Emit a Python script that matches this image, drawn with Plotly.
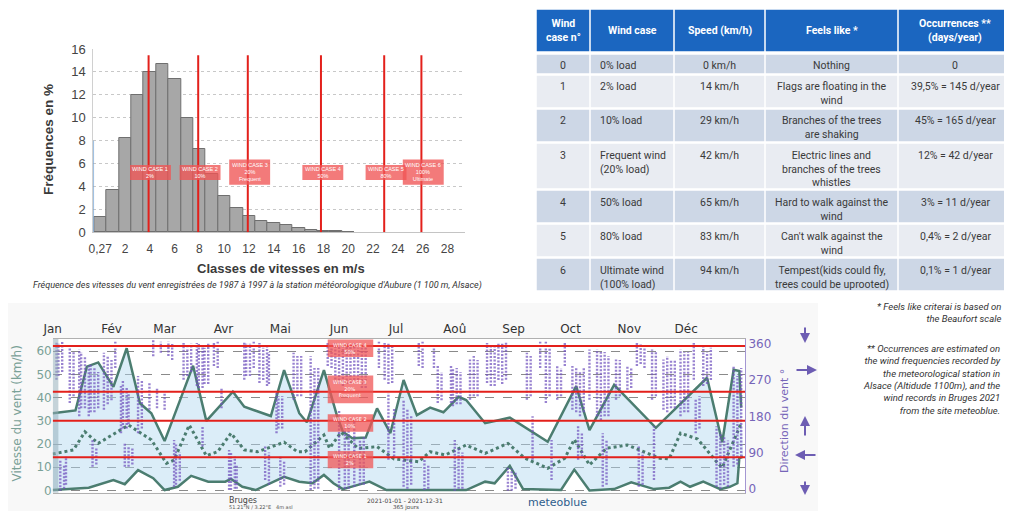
import plotly.graph_objects as go

# the page body keeps an 8px margin: the figure is drawn 8px in from the top-left corner
# and kept small enough that the page never overflows the 1012x519 window
OFF = 8
W, H = 1012 - 2 * OFF, 519 - 2 * OFF
def PX(x): return (x - OFF) / W
def PY(y): return 1 - (y - OFF) / H

# ---------------- Histogram data ----------------
hist_bins = list(range(21))
hist_freq = [1.3, 3.7, 8.2, 12.0, 14.0, 14.7, 13.4, 10.0, 7.3, 5.1, 3.2, 2.1, 1.4, 1.0,
             0.8, 0.65, 0.4, 0.22, 0.15, 0.08, 0.06]
hist_tickvals = list(range(0, 29, 2))
hist_ticktext = ["0,27"] + [str(v) for v in range(2, 29, 2)]
case_lines_ms = [3.9, 7.9, 11.9, 17.8, 22.9, 25.9]
case_labels = ["WIND CASE 1<br>2%", "WIND CASE 2<br>10%", "WIND CASE 3<br>20%<br>Frequent",
               "WIND CASE 4<br>50%", "WIND CASE 5<br>80%", "WIND CASE 6<br>100%<br>Ultimate"]

# ---------------- Table data ----------------
tbl_header = ["Wind<br>case n°", "Wind case", "Speed (km/h)", "Feels like *",
              "Occurrences **<br>(days/year)"]
tbl_case_no = ["0", "1", "2", "3", "4", "5", "6"]
tbl_case = ["0% load", "2% load", "10% load", "Frequent wind<br>(20% load)", "50% load",
            "80% load", "Ultimate wind<br>(100% load)"]
tbl_speed = ["0 km/h", "14 km/h", "29 km/h", "42 km/h", "65 km/h", "83 km/h", "94 km/h"]
tbl_feels = ["Nothing", "Flags are floating in the<br>wind", "Branches of the trees<br>are shaking",
             "Electric lines and<br>branches of the trees<br>whistles",
             "Hard to walk against the<br>wind", "Can't walk against the<br>wind",
             "Tempest(kids could fly,<br>trees could be uprooted)"]
tbl_occ = ["0", "39,5% = 145 d/year", "45% = 165 d/year", "12% = 42 d/year",
           "3% = 11 d/year", "0,4% = 2 d/year", "0,1% = 1 d/year"]
tbl_colwidths = [54, 84, 91, 133, 114]
tbl_align = ["center", "left", "center", "center", "center"]

# ---------------- Meteoblue data ----------------
month_days = [0, 31, 59, 90, 120, 151, 181, 212, 243, 273, 304, 334]
month_names = ["Jan", "Fév", "Mar", "Avr", "Mai", "Jun", "Jul", "Aoû", "Sep", "Oct", "Nov", "Déc"]

max_days = [0, 12, 18, 24, 32, 39, 46, 52, 59, 66, 74, 81, 95, 101, 115, 122, 130, 134, 143, 150,
            153, 158, 165, 171, 178, 185, 192, 199, 206, 214, 218, 228, 241, 261, 276, 283, 296,
            318, 345, 353, 359, 362, 363]
max_kmh = [33.3, 34.5, 53.4, 55.2, 44.7, 61.3, 37.6, 33.3, 21.3, 36.1, 53.8, 30, 42.6, 36.1, 32.1,
           51.9, 33.3, 29.4, 51.9, 31.8, 25.3, 22.5, 22.8, 35.4, 24.7, 47.6, 32.5, 35.7, 33.7, 40.4,
           39, 29, 31.4, 21, 45, 26, 45.5, 27, 48.6, 20.8, 52, 51.5, 35.7]

mean_days = [0, 11, 17, 24, 40, 52, 60, 64, 72, 81, 87, 94, 101, 108, 122, 129, 133, 143, 146, 152,
             161, 171, 180, 193, 199, 207, 218, 228, 240, 249, 261, 270, 275, 283, 292, 303, 320,
             325, 331, 340, 350, 353, 357, 361, 363]
mean_kmh = [15.7, 17.5, 25.3, 20.3, 28.2, 21.8, 11.7, 13.1, 28.2, 15, 16.7, 24.7, 17.5, 16.7, 20.8,
            16.7, 16.7, 23.9, 18.2, 25.1, 18.2, 18.9, 13.6, 12.4, 16.7, 15.3, 19.6, 16, 20.3, 13.9,
            9.6, 13.9, 22, 11, 18.2, 19.6, 13.9, 13.6, 24.7, 22.2, 12.4, 9.8, 17.5, 25.3, 29]

min_days = [0, 19, 32, 38, 45, 53, 59, 66, 73, 82, 91, 94, 100, 107, 122, 130, 137, 143, 148, 153,
            161, 167, 176, 183, 201, 218, 228, 233, 241, 248, 268, 275, 283, 296, 305, 317, 325,
            331, 336, 343, 352, 357, 361, 362, 364]
min_kmh = [0.2, 1.2, 4.5, 2.7, 8.8, 5.3, 0.2, 1.6, 6.3, 3.8, 3.8, 5, 1.6, 0.2, 5.9, 3.8, 3.1, 6.7,
           3.1, 0.6, 2.4, 3.8, 0.2, 0.2, 0.2, 0.2, 3.8, 3.1, 10.6, 0.6, 0.2, 9, 0, 0.6, 3.5, 0.6,
           1.2, 3.8, 1.6, 3.8, 0.6, 1.6, 3.1, 13.9, 14.6]

# wind direction streaks: (day, lowest direction, highest direction)
dir_streaks = [
    (2, 271, 365), (3, 280, 360), (5, 290, 365), (4, -5, 72), (6, 0, 60), (7, 10, 80),
    (9, 213, 354), (11, 230, 340), (14, 180, 346), (15, 200, 340), (17, 200, 330),
    (19, 180, 305), (20, 190, 310), (22, 190, 300), (24, 200, 290), (21, 55, 121), (23, 60, 100),
    (27, 196, 338), (29, 210, 330), (31, 220, 320), (33, 300, 365),
    (36, 138, 255), (37, 150, 270), (39, 150, 250), (40, 160, 240), (38, 55, 113), (40, 55, 105),
    (42, 60, 100), (45, 138, 280), (47, 150, 270), (51, 196, 263), (53, 329, 370), (55, 200, 250),
    (57, 338, 365), (59, 196, 238), (61, 330, 365), (63, 320, 360),
    (64, 5, 121), (65, 10, 110), (67, 20, 90), (69, 271, 362), (71, 280, 350), (73, 290, 360),
    (76, 255, 362), (77, 250, 360), (79, 250, 355), (80, 260, 350), (82, 260, 360), (79, 105, 155),
    (85, 305, 365), (87, 300, 365), (89, 200, 250), (93, -3, 96), (94, -3, 90), (96, 0, 80),
    (97, 0, 60), (101, 271, 365), (102, 280, 360), (104, 280, 360), (106, 300, 365),
    (109, 263, 362), (111, 270, 350), (113, 255, 355), (114, 260, 340), (112, 22, 105),
    (114, 10, 90), (118, 138, 238), (119, 150, 230), (121, 150, 230), (120, 5, 80), (122, 10, 70),
    (127, 221, 338), (129, 230, 330), (131, 230, 330), (136, -3, 329), (138, 0, 300),
    (140, 0, 300), (145, 305, 365), (147, 300, 360),
    (149, 263, 362), (151, 260, 355), (153, 255, 360), (155, 260, 360), (157, 260, 355),
    (159, 270, 362), (161, 270, 350), (163, 250, 350), (165, 250, 350), (151, -3, 196),
    (154, 0, 150), (156, 0, 170), (159, 5, 170), (162, 10, 120), (164, 10, 130),
    (172, 300, 365), (175, 271, 362), (177, 260, 360), (179, 263, 355), (177, 72, 238),
    (180, 80, 200), (185, 5, 221), (187, 0, 200), (189, 10, 180), (193, 305, 362), (195, 300, 365),
    (196, -3, 72), (198, 0, 60), (201, 300, 360), (203, 213, 305), (205, 220, 290),
    (210, 213, 305), (211, 205, 300), (213, 210, 300), (215, 210, 290), (212, -5, 121),
    (214, 0, 100), (216, 0, 90), (220, 221, 321), (222, 230, 330), (224, 230, 320),
    (229, 263, 362), (231, 255, 355), (233, 255, 355), (235, 270, 360), (237, 260, 360),
    (240, -5, 55), (242, -5, 50), (244, 0, 40), (239, 271, 365),
    (250, 221, 338), (252, 230, 330), (253, 72, 180), (257, 300, 365), (260, 213, 365),
    (262, 230, 350), (263, 22, 121), (266, 221, 305), (268, 230, 300), (270, 305, 365),
    (274, 196, 305), (276, 190, 300), (278, 180, 290), (280, 190, 300), (277, 72, 155),
    (279, 80, 140), (283, 221, 346), (287, 180, 346), (289, 170, 340), (291, 180, 340),
    (293, 180, 330), (290, 5, 138), (292, 10, 120), (297, 221, 321), (299, 230, 320),
    (303, 246, 305), (305, 250, 300), (308, 305, 365), (310, 310, 360), (312, 300, 360),
    (309, 5, 105), (311, 10, 90), (316, 221, 346), (318, 230, 340), (317, 22, 155),
    (322, 196, 321), (324, 190, 330), (326, 200, 320), (328, 200, 320), (331, 180, 346),
    (333, 190, 340), (335, 190, 340), (338, 271, 362), (339, 138, 221), (341, 150, 230),
    (343, 255, 354), (345, 260, 340), (347, 270, 350), (350, 5, 155), (352, 0, 140),
    (354, 10, 130), (356, 5, 120), (359, 55, 305), (361, 60, 280), (363, 80, 300),
]
case_speeds_kmh = [14.3, 30.1, 42.6, 62.3]
case_labels_bottom = ["WIND CASE 1<br>2%", "WIND CASE 2<br>10%", "WIND CASE 3<br>20%<br>Frequent",
                      "WIND CASE 4<br>50%"]
dir_ticks = [0, 90, 180, 270, 360]

RED = "#e3201b"
GREEN = "#4b7d70"
PURPLE = "#7665b8"
BOX = "rgba(240,85,85,0.78)"

fig = go.Figure()

# ---- histogram ----
fig.add_trace(go.Bar(x=hist_bins, y=hist_freq, width=1.0, marker=dict(color="#a7a7a7",
                     line=dict(color="#6f6f6f", width=1)), xaxis="x", yaxis="y", showlegend=False))

shapes = []
annotations = []

def note(x, y, text, size, color, family="Roboto", xanchor="center", yanchor="middle",
         angle=0, align="center"):
    annotations.append(dict(xref="paper", yref="paper", x=PX(x), y=PY(y), text=text,
                            xanchor=xanchor, yanchor=yanchor, textangle=angle, align=align,
                            showarrow=False, font=dict(family=family, size=size, color=color)))

for v in case_lines_ms:
    shapes.append(dict(type="line", xref="x", yref="y", x0=v, x1=v, y0=0, y1=15.45,
                       line=dict(color=RED, width=2)))
for v, lab in zip(case_lines_ms, case_labels):
    n = lab.count("<br>") + 1
    h = 1.3 if n == 2 else 2.2
    yc = 5.22 if n == 2 else 5.25
    shapes.append(dict(type="rect", xref="x", yref="y", x0=v - 1.5, x1=v + 1.8,
                       y0=yc - h / 2, y1=yc + h / 2, fillcolor=BOX, line=dict(width=0), layer="above"))
    annotations.append(dict(xref="x", yref="y", x=v + 0.15, y=yc, text=lab, showarrow=False,
                            xanchor="center", yanchor="middle",
                            font=dict(family="Liberation Sans", size=5.5, color="white")))
shapes.append(dict(type="line", xref="x", yref="y", x0=-0.56, x1=-0.56, y0=0, y1=8,
                   line=dict(color="#7aa7d6", width=1.5), layer="above"))

# ---- table (drawn as cells) ----
tx0, ty_head0, ty_head1 = 536, 9, 52
col_edges = [tx0]
for wcol in tbl_colwidths:
    col_edges.append(col_edges[-1] + wcol)
for c, txt in enumerate(tbl_header):
    shapes.append(dict(type="rect", xref="paper", yref="paper", x0=PX(col_edges[c]),
                       x1=PX(col_edges[c + 1] + 6), y0=PY(ty_head1), y1=PY(ty_head0),
                       fillcolor="#1b66c0", line=dict(color="white", width=1.5)))
    note((col_edges[c] + col_edges[c + 1]) / 2, (ty_head0 + ty_head1) / 2, "<b>" + txt + "</b>",
         10.5, "white")
columns = [tbl_case_no, tbl_case, tbl_speed, tbl_feels, tbl_occ]
ytop = 54
for r in range(len(tbl_case_no)):
    nlines = max(col[r].count("<br>") + 1 for col in columns)
    rh = 20 if nlines == 1 else 7 + 13 * nlines
    fillc = "#cdd7e6" if r % 2 == 0 else "#e9ecf2"
    for c, col in enumerate(columns):
        shapes.append(dict(type="rect", xref="paper", yref="paper", x0=PX(col_edges[c]),
                           x1=PX(col_edges[c + 1] + 6), y0=PY(ytop + rh), y1=PY(ytop),
                           fillcolor=fillc, line=dict(color="white", width=1.5)))
        if tbl_align[c] == "left":
            note(col_edges[c] + 8, ytop + 3.5, col[r], 10.5, "#3a3a3a", xanchor="left",
                 yanchor="top", align="left")
        else:
            note((col_edges[c] + col_edges[c + 1]) / 2, ytop + 3.5, col[r], 10.5, "#3a3a3a",
                 yanchor="top")
    ytop += rh + 1

# ---- meteoblue background ----
shapes.append(dict(type="rect", xref="paper", yref="paper", x0=0, x1=PX(818), y0=-0.05, y1=PY(303),
                   fillcolor="#f8f8f8", line=dict(width=0), layer="below"))
shapes.append(dict(type="rect", xref="paper", yref="paper", x0=PX(52.7), x1=PX(745), y0=PY(492.8),
                   y1=PY(339), fillcolor="white", line=dict(width=0), layer="below"))

# fill between min and max
fig.add_trace(go.Scatter(x=min_days, y=min_kmh, mode="lines", line=dict(width=0), xaxis="x2",
                         yaxis="y2", showlegend=False, hoverinfo="skip"))
fig.add_trace(go.Scatter(x=max_days, y=max_kmh, mode="lines", line=dict(width=0), fill="tonexty",
                         fillcolor="rgba(175,215,240,0.45)", xaxis="x2", yaxis="y2",
                         showlegend=False, hoverinfo="skip"))

# direction streaks
sx, sy = [], []
for d, lo, hi in dir_streaks:
    sx += [d, d, None]
    sy += [lo, hi, None]
fig.add_trace(go.Scatter(x=sx, y=sy, mode="lines",
                         line=dict(color="rgba(112,82,190,0.72)", width=2.4, dash="2px,1.5px"),
                         xaxis="x2", yaxis="y3", showlegend=False))

# speed lines
fig.add_trace(go.Scatter(x=max_days, y=max_kmh, mode="lines", line=dict(color=GREEN, width=2.5),
                         xaxis="x2", yaxis="y2", showlegend=False))
fig.add_trace(go.Scatter(x=mean_days, y=mean_kmh, mode="lines",
                         line=dict(color=GREEN, width=3, dash="dot"), xaxis="x2", yaxis="y2",
                         showlegend=False))
fig.add_trace(go.Scatter(x=min_days, y=min_kmh, mode="lines", line=dict(color=GREEN, width=2.5),
                         xaxis="x2", yaxis="y2", showlegend=False))

# left strip
shapes.append(dict(type="rect", xref="x2", yref="paper", x0=0, x1=3, y0=PY(492.8), y1=PY(339),
                   fillcolor="rgba(150,175,185,0.55)", line=dict(width=0), layer="above"))

for v in case_speeds_kmh:
    shapes.append(dict(type="line", xref="x2", yref="y2", x0=0, x1=365, y0=v, y1=v,
                       line=dict(color=RED, width=2), layer="above"))
for v, lab in zip(case_speeds_kmh, case_labels_bottom):
    n = lab.count("<br>") + 1
    h = 7.5 if n == 2 else 12
    yc = v - 1 if n == 2 else v + 1
    shapes.append(dict(type="rect", xref="x2", yref="y2", x0=145, x1=169, y0=yc - h / 2,
                       y1=yc + h / 2, fillcolor="rgba(240,85,85,0.75)", line=dict(width=0),
                       layer="above"))
    annotations.append(dict(xref="x2", yref="y2", x=157, y=yc, text=lab, showarrow=False,
                            xanchor="center", yanchor="middle",
                            font=dict(family="DejaVu Sans", size=5, color="white")))

# ---- text annotations ----
note(48, 140, "<b>Fréquences en %</b>", 13.5, "#3a3a3a", family="Liberation Sans", angle=-90)
note(281, 268, "<b>Classes de vitesses en m/s</b>", 13, "#3a3a3a", family="Liberation Sans")
note(257, 285.5, "<i>Fréquence des vitesses du vent enregistrées de 1987 à 1997 à la station "
     "météorologique d'Aubure (1 100 m, Alsace)</i>", 9, "#333")
note(16.5, 414, "Vitesse du vent (km/h)", 12, "#7aa197", family="DejaVu Sans", angle=-90)
note(784, 421, "Direction du vent °", 11, PURPLE, family="DejaVu Sans", angle=-90)
note(1003, 299, "<i>* Feels like criterai is based on<br>the Beaufort scale</i>", 9.5, "#333",
     xanchor="right", yanchor="top", align="right")
note(1003, 341, "<i>** Occurrences are estimated on<br>the wind frequencies recorded by<br>"
     "the meteorological station in<br>Alsace (Altidude 1100m), and the<br>"
     "wind records in Bruges 2021<br>from the site meteoblue.</i>", 9.5, "#333",
     xanchor="right", yanchor="top", align="right")
note(227, 500.5, "Bruges", 8, "#444", family="DejaVu Sans", xanchor="left")
note(227, 507, "51.21°N / 3.22°E   4m asl", 5, "#555", family="DejaVu Sans", xanchor="left")
note(405, 500.5, "2021-01-01 - 2021-12-31", 6, "#444", family="DejaVu Sans")
note(406, 507, "365 jours", 5.5, "#444", family="DejaVu Sans")
note(557, 502.5, "meteoblue", 11, "#2e5d8c", family="DejaVu Sans")

# direction arrows (N, W, S, E, N)
for (x0, y0, x1, y1) in [(805, 326, 805, 343), (795, 370, 817, 370), (805, 437, 805, 416),
                         (817, 455, 795, 455), (805, 480, 805, 495)]:
    annotations.append(dict(xref="paper", yref="paper", x=PX(x1), y=PY(y1), ax=x0 - x1, ay=y0 - y1,
                            showarrow=True, arrowhead=2,
                            arrowsize=1, arrowwidth=2, arrowcolor="#6d5db3", text=""))

fig.update_layout(
    width=W, height=H, margin=dict(l=0, r=0, t=0, b=0, pad=0, autoexpand=False),
    paper_bgcolor="white", plot_bgcolor="rgba(0,0,0,0)", showlegend=False, bargap=0,
    xaxis=dict(domain=[PX(93.3), PX(464.8)], anchor="y", range=[-0.56, 29.4], automargin=False,
               tickvals=hist_tickvals, ticktext=hist_ticktext, showgrid=False, showline=True,
               linecolor="#c4c4c4", ticks="outside", ticklen=5, tickcolor="rgba(0,0,0,0)",
               tickfont=dict(family="Liberation Sans", size=12, color="#444"), zeroline=False),
    yaxis=dict(domain=[PY(232.3), PY(49)], anchor="x", range=[0, 16], dtick=2, automargin=False,
               gridcolor="#c8c8c8", griddash="dot", showline=True, linecolor="#d0d0d0",
               ticks="outside", ticklen=4, tickcolor="rgba(0,0,0,0)", zeroline=False,
               tickfont=dict(family="Liberation Sans", size=13, color="#444")),
    xaxis2=dict(domain=[PX(52.7), PX(745)], anchor="y2", range=[0, 365], side="top",
                automargin=False, tickvals=month_days, ticktext=month_names, showgrid=False,
                showline=True, mirror=True, linecolor="#b0b0b0", zeroline=False, ticks="",
                tickfont=dict(family="DejaVu Sans", size=12, color="#333")),
    yaxis2=dict(domain=[PY(492.8), PY(339)], anchor="x2", range=[-1, 65.3], automargin=False,
                tickvals=[0, 10, 20, 30, 40, 50, 60], gridcolor="#8a8a8a", griddash="dash",
                gridwidth=1, zeroline=False, showline=False,
                tickfont=dict(family="DejaVu Sans", size=12, color="#7aa197")),
    yaxis3=dict(overlaying="y2", side="right", anchor="x2", range=[-10, 372], tickvals=dir_ticks,
                automargin=False, showgrid=False, zeroline=False, showline=True,
                linecolor="#a497d3",
                tickfont=dict(family="DejaVu Sans", size=12, color=PURPLE)),
    shapes=shapes, annotations=annotations,
)

fig.write_html("out.html")
